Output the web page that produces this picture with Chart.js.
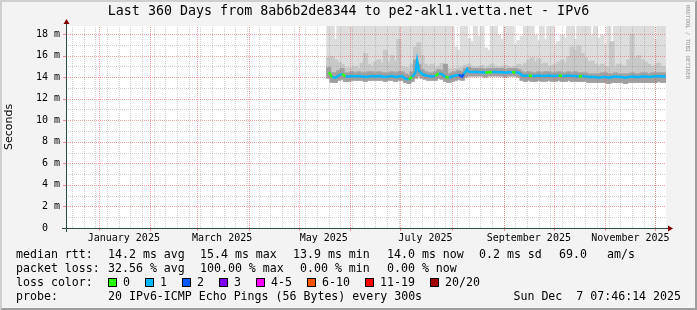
<!DOCTYPE html>
<html><head><meta charset="utf-8">
<script src="https://cdn.jsdelivr.net/npm/chart.js@4.4.1/dist/chart.umd.min.js"></script>
<style>
html,body{margin:0;padding:0;background:#f3f3f3;}
#wrap{position:relative;width:697px;height:310px;overflow:hidden;}
#c{position:absolute;left:0;top:0;}
.t{position:absolute;font-family:'DejaVu Sans Mono',monospace;white-space:pre;color:#000;}
.lg{font-size:11.6px;line-height:14px;}
.box{position:absolute;width:7px;height:7px;border:1px solid #000;}
#wm{position:absolute;left:684px;top:5px;font-family:'DejaVu Sans Mono',monospace;font-size:5.6px;color:#909090;writing-mode:vertical-rl;white-space:pre;line-height:7px;}
</style></head><body>
<div id="wrap">
<canvas id="c" width="697" height="310"></canvas>
<div class="t" style="left:0;top:3px;width:697px;text-align:center;font-size:13.33px;line-height:16px;">Last 360 Days from 8ab6b2de8344 to pe2-akl1.vetta.net - IPv6</div>
<div id="wm">RRDTOOL / TOBI OETIKER</div>
<div id="legend"></div>
</div>
<script>
// ---- axis / tick definitions (days since 1 Jan 2025) ----
const xMin = -19.68, xMax = 340.32;
const monthLabels = ['January 2025','March 2025','May 2025','July 2025','September 2025','November 2025'];
const monthLabelDays = [15, 74, 135, 196, 258, 319];
const monthStartDays = [0, 31, 59, 90, 120, 151, 181, 212, 243, 273, 304, 334];
const yMax = 18.74;
const yTickValues = [0, 2, 4, 6, 8, 10, 12, 14, 16, 18];
const yTickLabels = ['0  ', '2 m', '4 m', '6 m', '8 m', '10 m', '12 m', '14 m', '16 m', '18 m'];

// ---- loss colour legend ----
const lossLabels = ['0', '1', '2', '3', '4-5', '6-10', '11-19', '20/20'];
const lossColors = ['#26ff00', '#00b8ff', '#0059ff', '#7e00ff', '#ff00ff', '#ff5500', '#ff0000', '#a10000'];

// ---- smoke (ping distribution), bins of 2 days ----
const smokeDays = [138,140,142,144,146,148,150,152,154,156,
158,160,162,164,166,168,170,172,174,176,
178,180,182,184,186,188,190,192,194,196,
198,200,202,204,206,208,210,212,214,216,
218,220,222,224,226,228,230,232,234,236,
238,240,242,244,246,248,250,252,254,256,
258,260,262,264,266,268,270,272,274,276,
278,280,282,284,286,288,290,292,294,296,
298,300,302,304,306,308,310,312,314,316,
318,320,322,324,326,328,330,332,334,336,
338,340];
const smokeLo = [13.9,13.5,13.5,13.7,13.8,13.6,13.6,13.7,13.7,13.7,
13.7,13.6,13.7,13.7,13.7,13.7,13.7,13.6,13.7,13.7,
13.6,13.7,13.7,13.5,13.4,13.6,13.9,14.1,13.9,13.8,
13.7,13.7,13.7,13.9,13.8,13.6,13.5,13.6,13.7,13.8,
13.7,14.0,14.1,14.1,14.1,14.1,14.1,14.0,14.1,14.1,
14.1,14.1,14.1,14.0,14.1,14.1,14.1,14.0,13.7,13.6,
13.7,13.6,13.6,13.7,13.6,13.6,13.7,13.6,13.6,13.7,
13.6,13.6,13.7,13.6,13.6,13.6,13.6,13.6,13.5,13.5,
13.5,13.5,13.5,13.5,13.4,13.5,13.5,13.5,13.5,13.4,
13.5,13.5,13.5,13.5,13.5,13.5,13.5,13.5,13.5,13.6,
13.5,13.5];
const smokeDark = [14.9,14.4,14.4,14.6,14.8,14.4,14.4,14.5,14.4,14.5,
14.4,14.4,14.5,14.5,14.4,14.5,14.4,14.4,14.4,14.5,
14.4,14.5,14.5,14.3,14.2,14.5,15.6,15.2,14.7,14.5,
14.4,14.4,14.5,14.7,14.6,15.2,14.3,14.4,14.5,14.6,
14.5,14.8,14.9,14.8,14.8,14.8,14.8,14.7,14.8,14.8,
14.8,14.8,14.8,14.7,14.8,14.8,14.8,14.7,14.5,14.4,
14.5,14.4,14.4,14.5,14.4,14.5,14.5,14.4,14.4,14.5,
14.4,14.4,14.5,14.4,14.5,14.4,14.4,14.4,14.3,14.3,
14.3,14.3,14.4,14.4,14.3,14.3,14.4,14.3,14.3,14.3,
14.3,14.4,14.3,14.3,14.4,14.4,14.3,14.4,14.4,14.4,
14.4,14.4];
const smokeMid = [15.8,15.9,15.6,15.4,15.2,14.9,14.8,14.9,15.0,14.8,
15.3,16.2,15.2,15.0,15.4,15.6,15.3,16.5,15.4,16.0,
15.5,17.5,15.0,14.9,14.8,15.2,16.8,17.2,16.0,15.2,
15.0,15.2,14.9,15.0,15.3,14.9,14.8,14.7,14.8,14.8,
14.9,15.1,15.2,15.0,14.9,15.0,15.1,14.9,15.0,15.2,
15.0,14.9,15.0,15.1,15.0,14.9,15.0,15.2,15.0,15.3,
15.6,15.8,15.4,15.7,15.2,15.3,15.0,15.1,15.2,15.4,
15.6,15.3,15.9,16.8,16.5,16.9,16.2,15.8,15.4,15.5,
15.2,15.0,15.2,15.0,14.9,17.3,15.0,15.2,15.1,15.0,
15.6,18.0,15.8,16.0,15.6,15.4,15.2,15.0,15.1,15.3,
15.0,14.9];
const smokeTop = [19,19,17.5,19,19,19,19,19,19,19,
19,19,19,19,19,19,19,19,19,19,
19,19,19,19,19,19,19,19,19,19,
19,19,19,19,19,19,19,19,16.8,16.5,
19,19,17.6,17.3,19,17.8,19,16.7,16.5,19,
19,17.9,17.5,19,19,19,17.0,17.4,17.8,19,
19,19,17.9,17.4,19,17.5,19,19,17.0,17.3,
17.9,17.6,19,19,17.5,19,19,19,19,17.9,
19,17.6,17.9,17.0,19,16.6,19,19,19,19,
19,19,19,19,19,19,19,19,17.5,19,
19,19];

// ---- median rtt and loss count ----
const medDays = [138,140,142,144,146,148,150,152,154,156,
158,160,162,164,166,168,170,172,174,176,
178,180,182,184,186,188,190,
191,
192,194,196,198,200,202,204,206,208,210,212,214,216,218,
219,220,221,
222,224,226,228,230,232,234,236,238,240,
242,244,246,248,250,252,254,256,258,260,
262,264,266,268,270,272,274,276,278,280,
282,284,286,288,290,292,294,296,298,300,
302,304,306,308,310,312,314,316,318,320,
322,324,326,328,330,332,334,336,338,340];
const medVals = [14.45,14.0,13.95,14.15,14.3,14.05,14.05,14.1,14.05,14.1,
14.05,14.0,14.05,14.1,14.05,14.1,14.05,14.0,14.05,14.1,
14.0,14.05,14.1,13.85,13.8,14.0,14.4,
15.5,
14.6,14.3,14.15,14.1,14.05,14.1,14.35,14.25,14.0,13.95,14.05,14.15,14.2,14.05,
14.3,14.45,14.75,
14.5,14.45,14.5,14.45,14.45,14.4,14.45,14.45,14.5,14.45,
14.45,14.4,14.45,14.45,14.45,14.4,14.15,14.1,14.15,14.1,
14.1,14.15,14.1,14.1,14.15,14.1,14.1,14.15,14.1,14.1,
14.15,14.1,14.1,14.05,14.1,14.05,14.0,14.0,14.0,13.95,
14.0,14.0,13.95,14.0,14.05,14.0,14.0,13.95,14.0,14.05,
14.0,14.0,14.05,14.05,14.0,14.05,14.05,14.1,14.05,14.05];
const medLoss = [1,0,1,1,1,0,1,1,1,1,
1,1,1,1,1,1,1,1,1,1,
1,1,1,1,1,0,1,
1,
1,1,1,1,1,1,0,1,1,0,1,1,1,2,
2,1,1,
1,1,1,1,1,1,0,0,1,1,
1,1,1,1,0,1,1,1,1,0,
1,1,1,1,1,1,1,1,0,1,
1,1,1,1,0,1,1,1,1,1,
1,1,1,1,1,1,1,1,1,1,
1,1,1,1,1,1,1,1,1,1];

// ---- legend text ----
const legendRows = [
  {y:247, items:[[16,'median rtt:'],[108,'14.2 ms avg'],[200,'15.4 ms max'],[293,'13.9 ms min'],[387,'14.0 ms now'],[479,'0.2 ms sd'],[559,'69.0'],[607,'am/s']]},
  {y:261, items:[[16,'packet loss:'],[108,'32.56 % avg'],[200,'100.00 % max'],[300,'0.00 % min'],[387,'0.00 % now']]},
  {y:275, items:[[16,'loss color:']]},
  {y:289, items:[[16,'probe:'],[108,'20 IPv6-ICMP Echo Pings (56 Bytes) every 300s']]}
];
const stamp = 'Sun Dec  7 07:46:14 2025';
const lossBoxX = [108,145,182,219,256,307,365,430];

(function buildLegend(){
  const L = document.getElementById('legend');
  let h = '';
  legendRows.forEach(r => r.items.forEach(([x,t]) => {
    h += `<div class="t lg" style="left:${x}px;top:${r.y}px">${t}</div>`;
  }));
  lossLabels.forEach((lab,i) => {
    h += `<div class="box" style="left:${lossBoxX[i]}px;top:278px;background:${lossColors[i]}"></div>`;
    h += `<div class="t lg" style="left:${lossBoxX[i]+15}px;top:275px">${lab}</div>`;
  });
  h += `<div class="t lg" style="right:16px;top:289px">${stamp}</div>`;
  L.innerHTML = h;
})();

function drawGrid(chart){
  const {ctx, chartArea:a, scales:{x, y}} = chart;
  ctx.save();
  ctx.beginPath(); ctx.rect(a.left, a.top, a.right-a.left, a.bottom-a.top); ctx.clip();
  ctx.lineWidth = 1; ctx.setLineDash([1,1]);
  ctx.strokeStyle = 'rgba(140,140,140,0.42)';
  ctx.beginPath();
  for (let d = -16; d <= 341; d += 7) {
    const px = Math.round(x.getPixelForValue(d)) + 0.5;
    ctx.moveTo(px, a.bottom); ctx.lineTo(px, a.top);
  }
  for (let v = 1; v < 19; v += 2) {
    const py = Math.round(y.getPixelForValue(v)) + 0.5;
    ctx.moveTo(a.left, py); ctx.lineTo(a.right, py);
  }
  ctx.stroke();
  ctx.strokeStyle = 'rgba(240,70,70,0.5)';
  ctx.beginPath();
  monthStartDays.forEach(d => {
    const px = Math.round(x.getPixelForValue(d)) + 0.5;
    ctx.moveTo(px, a.bottom); ctx.lineTo(px, a.top);
  });
  yTickValues.forEach(v => { if (!v) return;
    const py = Math.round(y.getPixelForValue(v)) + 0.5;
    ctx.moveTo(a.left, py); ctx.lineTo(a.right, py);
  });
  ctx.stroke();
  ctx.restore();
}

function drawAxes(chart){
  const {ctx, chartArea:a, scales:{x, y}} = chart;
  ctx.save();
  ctx.setLineDash([]);
  ctx.lineWidth = 1;
  ctx.strokeStyle = 'rgba(240,70,70,0.6)';
  ctx.beginPath();
  yTickValues.forEach(v => { const py = Math.round(y.getPixelForValue(v)) + 0.5; ctx.moveTo(a.left-3, py); ctx.lineTo(a.left, py); });
  monthStartDays.forEach(d => { const px = Math.round(x.getPixelForValue(d)) + 0.5; ctx.moveTo(px, a.bottom); ctx.lineTo(px, a.bottom+3); });
  ctx.stroke();
  ctx.strokeStyle = '#2c4d43';
  ctx.beginPath();
  const ox = a.left + 0.5, oy = a.bottom + 0.5;
  ctx.moveTo(a.left-4, oy); ctx.lineTo(a.right+4, oy);
  ctx.moveTo(ox, a.bottom+4); ctx.lineTo(ox, a.top-4);
  ctx.stroke();
  ctx.fillStyle = '#7f0000';
  ctx.beginPath();
  ctx.moveTo(a.right+2, oy-3); ctx.lineTo(a.right+2, oy+3); ctx.lineTo(a.right+7, oy); ctx.closePath(); ctx.fill();
  ctx.beginPath();
  ctx.moveTo(ox-3, a.top-2); ctx.lineTo(ox+3, a.top-2); ctx.lineTo(ox, a.top-7); ctx.closePath(); ctx.fill();
  ctx.restore();
}

const rrdPlugin = {
  id: 'rrd',
  beforeDraw(chart){
    const {ctx, chartArea:a, width:W, height:H} = chart;
    ctx.save();
    ctx.fillStyle = '#f3f3f3'; ctx.fillRect(0, 0, W, H);
    ctx.fillStyle = '#cfcfcf';
    ctx.beginPath(); ctx.moveTo(0,H); ctx.lineTo(2,H-2); ctx.lineTo(2,2); ctx.lineTo(W-2,2); ctx.lineTo(W,0); ctx.lineTo(0,0); ctx.closePath(); ctx.fill();
    ctx.fillStyle = '#9e9e9e';
    ctx.beginPath(); ctx.moveTo(2,H-2); ctx.lineTo(W-2,H-2); ctx.lineTo(W-2,2); ctx.lineTo(W,0); ctx.lineTo(W,H); ctx.lineTo(0,H); ctx.closePath(); ctx.fill();
    ctx.fillStyle = '#ffffff';
    ctx.fillRect(a.left, a.top, a.right-a.left, a.bottom-a.top);
    ctx.restore();
  },
  beforeDatasetDraw(chart, args){ if (args.index === 3) drawGrid(chart); },
  afterDatasetsDraw(chart){ drawAxes(chart); }
};

const barDs = (hi, color, order) => ({
  type: 'bar', data: smokeDays.map((d,i) => ({x:d, y:[smokeLo[i], hi[i]]})),
  backgroundColor: color, borderWidth: 0, grouped: false, barThickness: 4.4, order, clip: 0
});

new Chart(document.getElementById('c'), {
  type: 'bar',
  data: { datasets: [
    barDs(smokeTop, '#dddddd', 3),
    barDs(smokeMid, '#c8c8c8', 2),
    barDs(smokeDark, '#a0a0a0', 1),
    { type: 'line', data: medDays.map((d,i) => ({x:d, y:medVals[i]})), borderWidth: 2.5, pointRadius: 0,
      tension: 0, fill: false, order: 0, clip: 0, borderColor: lossColors[1],
      segment: { borderColor: c => lossColors[medLoss[c.p1DataIndex]] } }
  ]},
  options: {
    responsive: false, animation: false, events: [],
    layout: { padding: { left: 0, right: 31, top: 26, bottom: 0 } },
    plugins: { legend: { display: false }, tooltip: { enabled: false } },
    scales: {
      x: { type: 'linear', min: xMin, max: xMax, offset: false,
        grid: { display: false, drawTicks: false }, border: { display: false },
        afterBuildTicks: s => { s.ticks = monthLabelDays.map(v => ({value: v})); },
        afterFit: s => { s.height = 82; },
        ticks: { autoSkip: false, maxRotation: 0, padding: 4, color: '#000',
          font: { family: 'DejaVu Sans Mono', size: 10 },
          callback: v => monthLabels[monthLabelDays.indexOf(v)] } },
      y: { type: 'linear', min: 0, max: yMax,
        grid: { display: false, drawTicks: false }, border: { display: false },
        afterBuildTicks: s => { s.ticks = yTickValues.map(v => ({value: v})); },
        afterFit: s => { s.width = 66; },
        ticks: { padding: 6, color: '#000', font: { family: 'DejaVu Sans Mono', size: 10 },
          callback: v => yTickLabels[yTickValues.indexOf(v)] },
        title: { display: true, text: 'Seconds', color: '#000',
          font: { family: 'DejaVu Sans', size: 11 }, padding: { top: 3, bottom: 0 } } }
    }
  },
  plugins: [rrdPlugin]
});
</script>
</body></html>
